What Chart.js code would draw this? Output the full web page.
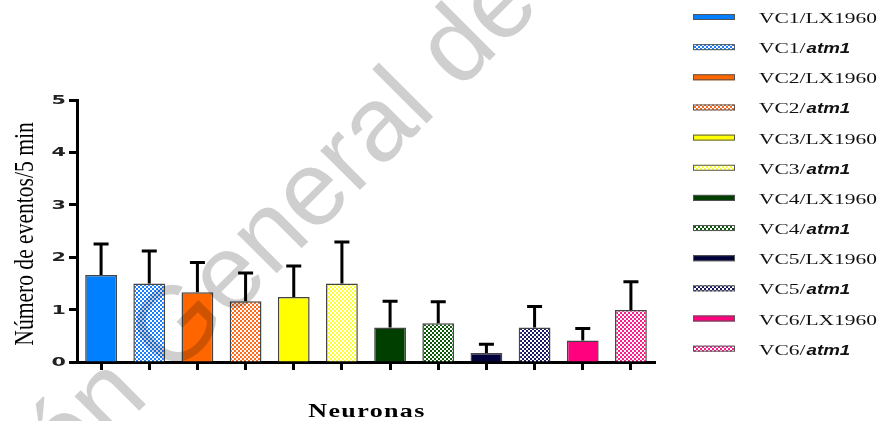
<!DOCTYPE html>
<html>
<head>
<meta charset="utf-8">
<script src="https://cdn.jsdelivr.net/npm/chart.js@4.4.1/dist/chart.umd.min.js"></script>
<style>
  html, body { margin: 0; padding: 0; background: #fff; }
  #wrap { position: relative; width: 882px; height: 421px; }
</style>
</head>
<body>
<div id="wrap"><canvas id="chart"></canvas></div>
<script>
// data
const neuronLabels = [
  "VC1/LX1960", "VC1/atm1", "VC2/LX1960", "VC2/atm1",
  "VC3/LX1960", "VC3/atm1", "VC4/LX1960", "VC4/atm1",
  "VC5/LX1960", "VC5/atm1", "VC6/LX1960", "VC6/atm1"
];
const eventMeans = [1.66, 1.50, 1.33, 1.16, 1.24, 1.50, 0.66, 0.74, 0.17, 0.66, 0.41, 0.99];
const eventErrors = [0.59, 0.62, 0.57, 0.54, 0.59, 0.79, 0.50, 0.41, 0.17, 0.40, 0.23, 0.54];
const yTicks = [0, 1, 2, 3, 4, 5];

const yTitle = "Número de eventos/5 min";
const xTitle = "Neuronas";
const watermark = "Dirección General de Bibliotecas";

// styling
const baseColors = ["#0080ff", "#1a80ff", "#ff6600", "#ff6a1a", "#ffff00", "#ffff33",
                    "#003f00", "#0a5a0a", "#00003a", "#1a1a66", "#ff007f", "#ff1a8c"];

const canvas = document.getElementById("chart");
const ctx0 = canvas.getContext("2d");

function checker(color) {
  const c = document.createElement("canvas");
  c.width = 4; c.height = 4;
  const g = c.getContext("2d");
  g.fillStyle = "#fff";
  g.fillRect(0, 0, 4, 4);
  g.fillStyle = color;
  g.fillRect(0, 0, 2, 2);
  g.fillRect(2, 2, 2, 2);
  return ctx0.createPattern(c, "repeat");
}

const barFills = neuronLabels.map((l, i) =>
  l.endsWith("atm1") ? checker(baseColors[i]) : baseColors[i]);

// error bars (upper only)
const errorBars = {
  id: "errorBars",
  afterDatasetsDraw(chart) {
    const ctx = chart.ctx;
    const ys = chart.scales.y;
    const meta = chart.getDatasetMeta(0);
    ctx.save();
    ctx.strokeStyle = "#000";
    ctx.lineWidth = 3;
    meta.data.forEach((bar, i) => {
      const top = ys.getPixelForValue(eventMeans[i] + eventErrors[i]);
      ctx.beginPath();
      ctx.moveTo(bar.x, bar.y);
      ctx.lineTo(bar.x, top);
      ctx.moveTo(bar.x - 7.5, top);
      ctx.lineTo(bar.x + 7.5, top);
      ctx.stroke();
    });
    ctx.restore();
  }
};

// labels, titles, legend and watermark
const decor = {
  id: "decor",
  afterDraw(chart) {
    const ctx = chart.ctx;
    const ys = chart.scales.y;
    const area = chart.chartArea;

    // y tick labels (wide, bold)
    ctx.save();
    ctx.fillStyle = "#222";
    ctx.font = 'bold 11.5px "DejaVu Sans"';
    ctx.textAlign = "right";
    ctx.textBaseline = "middle";
    yTicks.forEach(v => {
      ctx.save();
      ctx.translate(area.left - 11, ys.getPixelForValue(v) + 1);
      ctx.scale(1.8, 1);
      ctx.fillText(String(v), 0, 0);
      ctx.restore();
    });
    ctx.restore();

    // y title
    ctx.save();
    ctx.fillStyle = "#000";
    ctx.font = '28px "Liberation Serif"';
    ctx.textAlign = "center";
    ctx.textBaseline = "alphabetic";
    ctx.translate(33, (area.top + area.bottom) / 2 + 3);
    ctx.rotate(-Math.PI / 2);
    ctx.scale(0.77, 1);
    ctx.fillText(yTitle, 0, 0);
    ctx.restore();

    // x title
    ctx.save();
    ctx.fillStyle = "#000";
    ctx.font = 'bold 19px "Liberation Serif"';
    ctx.letterSpacing = "1px";
    ctx.textAlign = "center";
    ctx.translate((area.left + area.right) / 2 + 1, 417);
    ctx.scale(1.37, 1);
    ctx.fillText(xTitle, 0, 0);
    ctx.restore();

    // legend
    const lx = 693, ly0 = 17, step = 30.15;
    neuronLabels.forEach((lab, i) => {
      const y = ly0 + i * step;
      ctx.save();
      ctx.fillStyle = barFills[i];
      ctx.fillRect(lx, y - 3, 42, 6);
      ctx.strokeStyle = "#555";
      ctx.lineWidth = 1;
      ctx.strokeRect(lx + 0.5, y - 3 + 0.5, 41, 5);
      ctx.restore();

      const parts = lab.split("/");
      const head = parts[0] + "/";
      const tail = parts[1];
      ctx.save();
      ctx.fillStyle = "#111";
      ctx.textBaseline = "alphabetic";
      ctx.textAlign = "left";
      let x = 759;
      ctx.font = '15px "Liberation Serif"';
      ctx.save();
      ctx.translate(x, y + 6);
      ctx.scale(1.43, 1);
      ctx.fillText(head, 0, 0);
      x += ctx.measureText(head).width * 1.43;
      ctx.restore();
      if (tail === "atm1") {
        ctx.font = 'italic bold 15px "Liberation Sans"';
        ctx.translate(x + 1, y + 6);
        ctx.scale(1.25, 1);
        ctx.fillText(tail, 0, 0);
      } else {
        ctx.translate(x, y + 6);
        ctx.scale(1.43, 1);
        ctx.fillText(tail, 0, 0);
      }
      ctx.restore();
    });

    // watermark
    ctx.save();
    ctx.font = '106px "Liberation Sans"';
    ctx.fillStyle = "rgba(0,0,0,0.19)";
    ctx.translate(430, 120);
    ctx.rotate(-Math.PI / 4);
    const pre = ctx.measureText("Dirección Genera").width;
    ctx.fillText(watermark, -pre - 12, 0);
    ctx.restore();
  }
};

new Chart(canvas, {
  type: "bar",
  data: {
    labels: neuronLabels,
    datasets: [{
      data: eventMeans,
      backgroundColor: barFills,
      borderColor: "#444",
      borderWidth: 1.5,
      barPercentage: 0.66,
      categoryPercentage: 1
    }]
  },
  options: {
    responsive: true,
    maintainAspectRatio: false,
    animation: false,
    devicePixelRatio: 1,
    layout: { padding: { left: 69, right: 227, top: 100, bottom: 51 } },
    scales: {
      x: {
        grid: { drawOnChartArea: false, drawTicks: true, tickLength: 8, tickWidth: 3, tickColor: "#000", offset: false },
        border: { display: true, color: "#000", width: 3 },
        ticks: { display: false }
      },
      y: {
        min: 0,
        max: 5,
        grid: { drawOnChartArea: false, drawTicks: true, tickLength: 8, tickWidth: 3, tickColor: "#000" },
        border: { display: true, color: "#000", width: 3 },
        ticks: { display: false, stepSize: 1 }
      }
    },
    plugins: {
      legend: { display: false },
      tooltip: { enabled: false }
    }
  },
  plugins: [errorBars, decor]
});
</script>
</body>
</html>
